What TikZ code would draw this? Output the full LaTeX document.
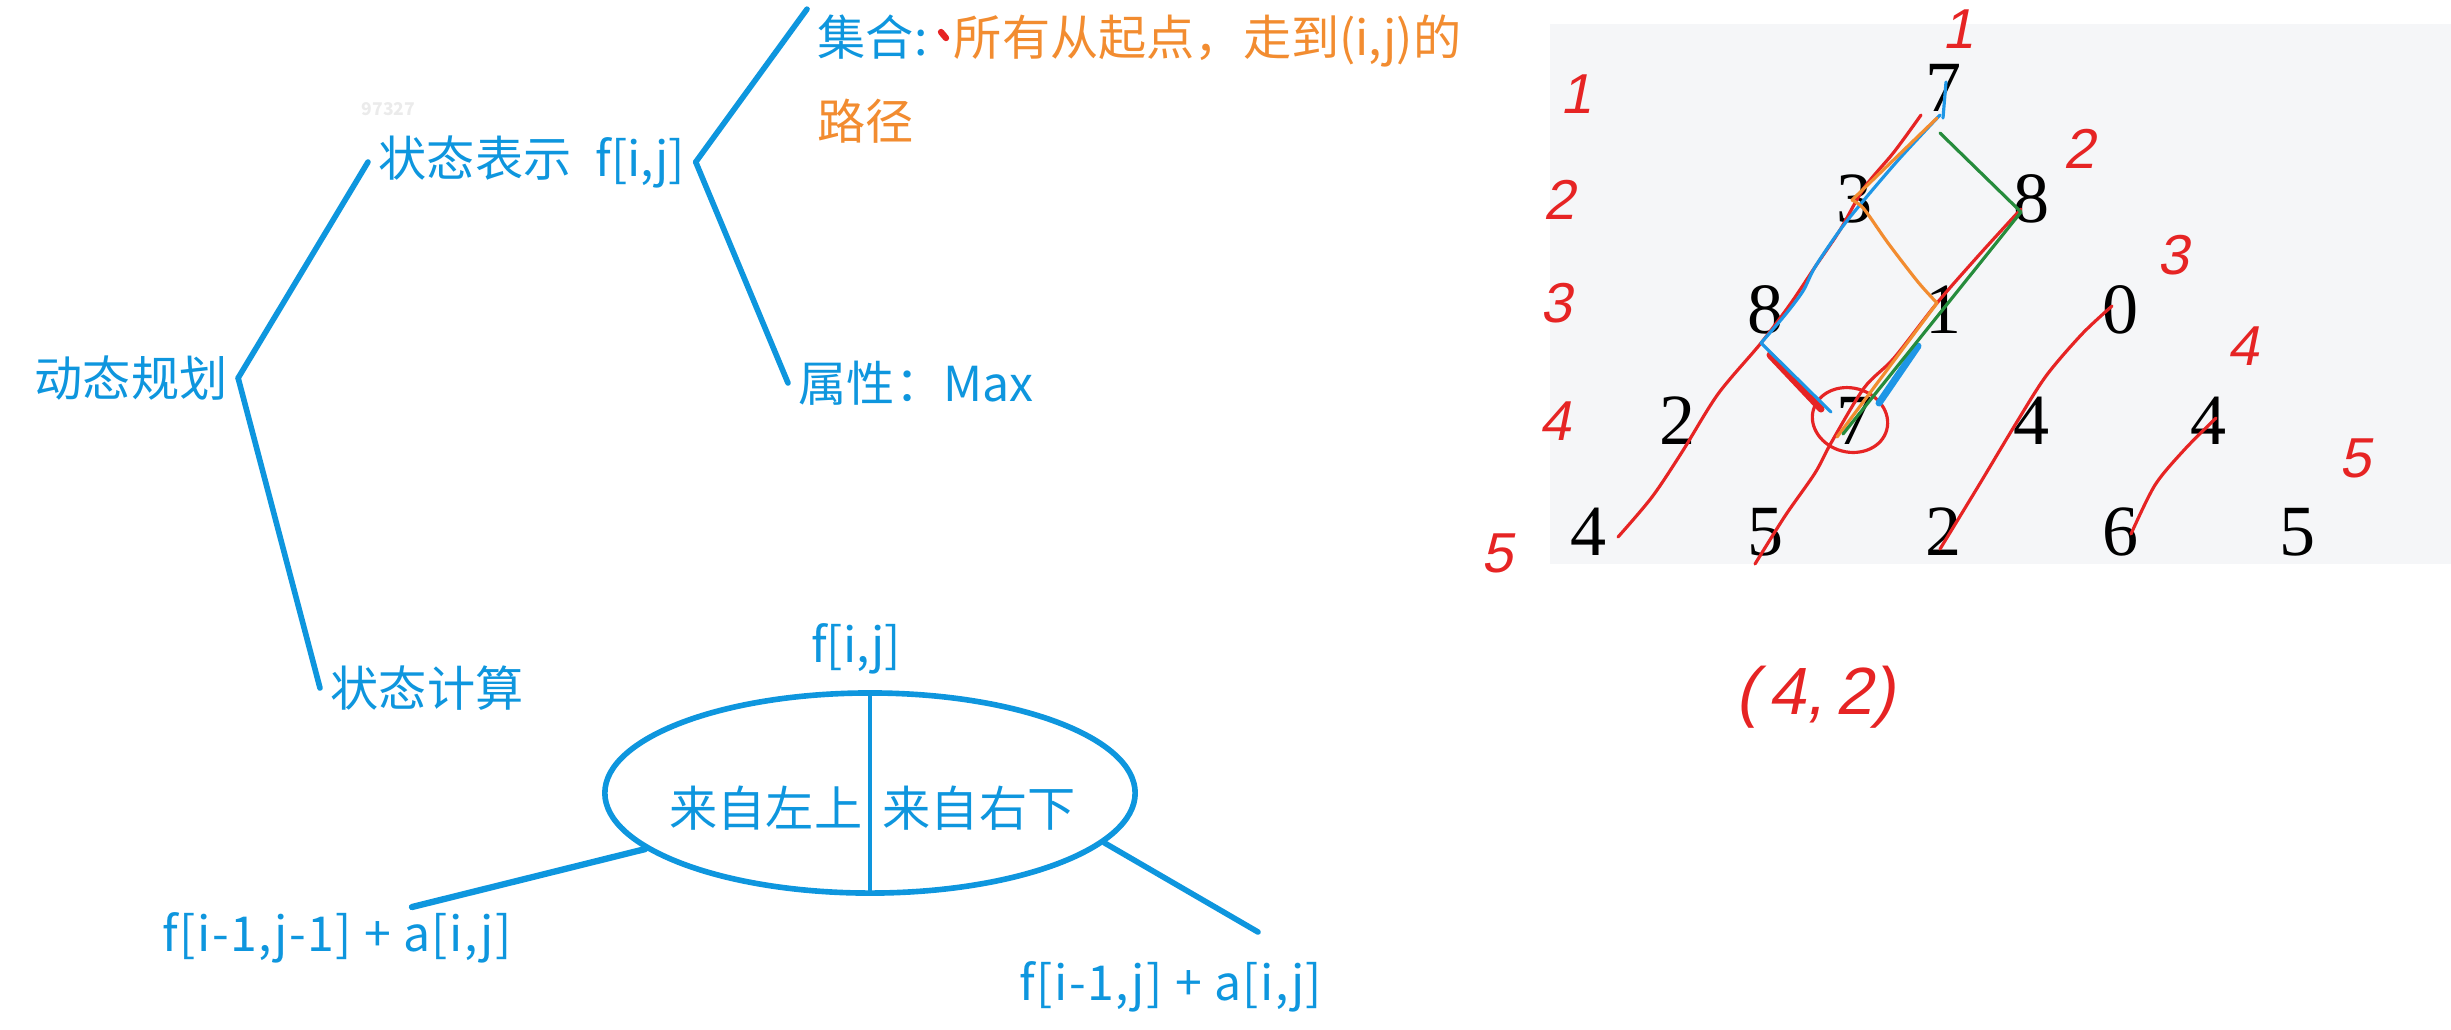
\documentclass[tikz,border=0pt]{standalone}
\usepackage{fontspec}
\usepackage{xcolor}
\usepackage{tikz}
\usetikzlibrary{positioning, calc, shapes.geometric}
\newfontfamily\cjk{Noto Sans CJK SC}
\newfontfamily\wide[LetterSpace=3]{Noto Sans CJK SC}
\newfontfamily\digitfont{Liberation Serif}
\newfontfamily\handfont[FakeSlant=0.2]{Liberation Sans}
\definecolor{inkblue}{RGB}{14,150,222}
\definecolor{inkorange}{RGB}{242,140,48}
\definecolor{penred}{RGB}{230,36,36}
\definecolor{pengreen}{RGB}{38,140,60}
\definecolor{penblue}{RGB}{30,150,230}
\definecolor{panelgray}{RGB}{245,246,248}

\begin{document}
\begin{tikzpicture}[x=0.01cm, y=-0.01cm,
    txt/.style={font=\cjk\fontsize{13.7}{16}\selectfont, text=inkblue, inner xsep=0.1cm, inner ysep=0.05cm},
    branch/.style={draw=inkblue, line width=1.6pt, line cap=round},
    digit/.style={font=\digitfont\fontsize{20.5}{24}\selectfont, inner sep=0},
    hand/.style={font=\handfont\fontsize{16}{18}\selectfont, text=penred, inner sep=0},
    pen/.style={line width=0.9pt, line cap=round, line join=round},
]
\useasboundingbox (0,0) rectangle (2451,1029);

% left: the tree
\node[txt, anchor=west](dp) at (24,378){动态规划};
\node[txt, anchor=west](repr) at (368,162){状态表示\hspace{0.5em}f[i,j]};
\node[txt, anchor=west](calc) at (320,688){状态计算};
\node[txt, anchor=west](setnode) at (807,41){集合:\hspace{0.55em}{\color{inkorange}所有从起点，走到(i,j)的}};
\node[txt, anchor=west, text=inkorange](pathnode) at (807,121){路径};
\node[txt, anchor=west](attr) at (788,383){属性：Max};
\node[font=\cjk\bfseries\fontsize{5}{6}\selectfont, text=black!8, anchor=west, inner sep=0](mark) at (361,109){97327};

\draw[branch] (dp.east) -- (repr.west);
\draw[branch] (dp.east) -- (calc.west);
\draw[branch] (repr.east) -- (setnode.north west);
\draw[branch] (repr.east) -- (attr.west);
\draw[penred, line width=1.8pt, line cap=round] (941,32) -- (946,38);

% bottom: the split
\node[draw=inkblue, line width=1.6pt, ellipse, minimum width=5.3cm, minimum height=2cm](split) at (870,793){};
\draw[inkblue, line width=1.3pt] (split.north) -- (split.south);
\coordinate (splitmid) at ($(split.center)+(0,15)$);
\node[txt](top)[above = 0.1cm of split, xshift=-0.14cm]{f[i,j]};
\node[txt](fromleft)[left = -0.03cm of splitmid]{来自左上};
\node[txt](fromright)[right = 0.02cm of splitmid]{来自右下};
\node[txt, font=\wide\fontsize{13.7}{16}\selectfont, anchor=west](lterm) at (152,938){f[i-1,j-1] + a[i,j]};
\node[txt, font=\wide\fontsize{13.7}{16}\selectfont, anchor=west](rterm) at (1009,987){f[i-1,j] + a[i,j]};
\coordinate (lend) at (412,907);
\coordinate (rend) at (1258,932);
\draw[branch, line width=1.8pt] (split.194) -- (lend);
\draw[branch] (split.348) -- (rend);

% right: the number triangle
\fill[panelgray] (1550,24) rectangle (2451,564);
\node[digit](n11) at (1943,88){7};
\node[digit](n21) at (1854.5,199){3};
\node[digit](n22) at (2031.5,199){8};
\node[digit](n31) at (1766,310){8};
\node[digit](n32) at (1943,310){1};
\node[digit](n33) at (2120,310){0};
\node[digit](n41) at (1677.5,421){2};
\node[digit](n42) at (1854.5,421){7};
\node[digit](n43) at (2031.5,421){4};
\node[digit](n44) at (2208.5,421){4};
\node[digit](n51) at (1589,532){4};
\node[digit](n52) at (1766,532){5};
\node[digit](n53) at (1943,532){2};
\node[digit](n54) at (2120,532){6};
\node[digit](n55) at (2297,532){5};

% handwritten row and column numbers
\node[hand](row1) at (1576,94){1};
\node[hand](row2) at (1559,200){2};
\node[hand](row3) at (1556,303){3};
\node[hand](row4) at (1555,421){4};
\node[hand](row5) at (1497,553){5};
\node[hand](col1) at (1958,29){1};
\node[hand](col2) at (2079,149){2};
\node[hand](col3) at (2173,255){3};
\node[hand](col4) at (2243,346){4};
\node[hand](col5) at (2355,458){5};
\node[hand, font=\handfont\fontsize{19}{22}\selectfont](cell) at (1815,697){(\,4,\,2)};

% pen strokes
\draw[pen, penred] plot[smooth] coordinates {(1618,537) (1652,497) (1682,452) (1718,394) (1761,343) (1791,303) (1815,267) (1840,230) (1864,188) (1894,152) (1921,115)};
\draw[pen, penred] plot[smooth] coordinates {(1755,564) (1785,516) (1815,473) (1831,443) (1864,388) (1894,358) (1937,303) (1979,255) (2021,209)};
\draw[pen, penred] plot[smooth] coordinates {(1940,549) (1979,485) (2015,425) (2046,376) (2082,334) (2112,306)};
\draw[pen, penred] plot[smooth] coordinates {(2131,534) (2155,485) (2185,449) (2216,418)};
\draw[pen, penred, rotate around={-15:(1850,420)}] (1850,420) ellipse (0.38cm and 0.32cm);
\draw[penred, line width=2pt, line cap=round] (1770,355) -- (1821,409);
\draw[pen, penblue] (1946,82) -- (1943,118);
\draw[pen, penblue] plot[smooth] coordinates {(1940,115) (1900,158) (1864,200) (1840,230) (1815,267) (1803,291) (1785,315) (1761,343)};
\draw[pen, penblue] (1761,343) -- (1831,412);
\draw[penblue, line width=2pt, line cap=round] (1918,346) -- (1879,403);
\draw[pen, inkorange] (1937,118) -- (1852,200);
\draw[pen, inkorange] plot[smooth] coordinates {(1852,200) (1864,209) (1888,243) (1918,282) (1937,303)};
\draw[pen, inkorange] (1937,303) -- (1837,437);
\draw[pen, pengreen] (1940,133) -- (2021,212) -- (1843,434);
\end{tikzpicture}
\end{document}
